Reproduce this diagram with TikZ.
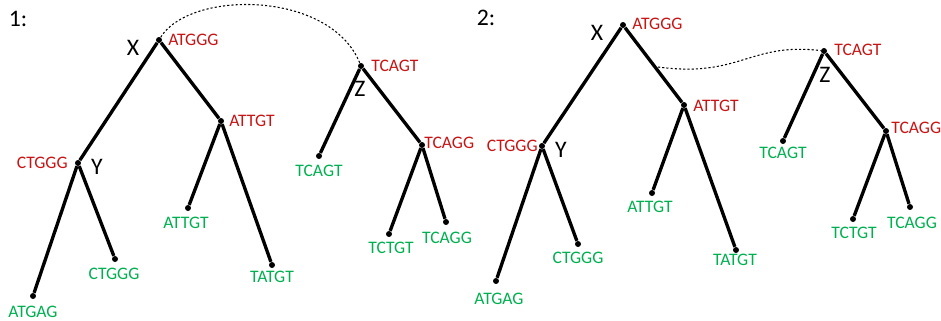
\documentclass[tikz,border=0pt]{standalone}
\usepackage{fontspec}
\setmainfont{Carlito}
\definecolor{tred}{RGB}{200,20,20}
\definecolor{tgreen}{RGB}{0,176,80}
\begin{document}
\begin{tikzpicture}[x=0.02cm,y=-0.02cm,
  dot/.style={circle,fill=black,inner sep=0pt,minimum size=0.12cm},
  br/.style={line width=1.9pt},
  rl/.style={text=tred,font=\fontsize{10}{12}\selectfont,inner sep=0pt},
  gl/.style={text=tgreen,font=\fontsize{10}{12}\selectfont,inner sep=0pt},
  bl/.style={font=\fontsize{13.5}{15}\selectfont,inner sep=0pt},
  link/.style={line width=0.6pt,dash pattern=on 1.2pt off 1.2pt}]
\useasboundingbox (0,0) rectangle (941,321);
% ---------- panel 1 ----------
\node[bl] (t1) at (18,19) {1:};
\node[dot] (ax) at (159,40) {};
\node[dot] (aa) at (221,121) {};
\node[dot] (ay) at (78,163) {};
\node[dot] (aag) at (33,296) {};
\node[dot] (acg) at (115,259) {};
\node[dot] (aat) at (188,208) {};
\node[dot] (atat) at (272,265) {};
\node[dot] (az) at (361,66) {};
\node[dot] (atl) at (319,156) {};
\node[dot] (atc) at (422,145) {};
\node[dot] (att) at (389,234) {};
\node[dot] (atg) at (446,222) {};
\draw[br] (aag) -- (ay) -- (ax) -- (aa) -- (atat);
\draw[br] (ay) -- (acg);
\draw[br] (aa) -- (aat);
\draw[br] (atl) -- (az) -- (atc) -- (att);
\draw[br] (atc) -- (atg);
\draw[link] (ax) .. controls (190,-10) and (330,-10) .. (az);
\node[bl] (lx1) at (133,48) {X};
\node[bl] (ly1) at (97,167) {Y};
\node[bl] (lz1) at (360,89) {Z};
\node[rl,anchor=west] (r1a) at (168,40) {ATGGG};
\node[rl,anchor=west] (r1b) at (229,121) {ATTGT};
\node[rl,anchor=east] (r1c) at (68,163) {CTGGG};
\node[rl,anchor=west] (r1d) at (371,66) {TCAGT};
\node[rl,anchor=west] (r1e) at (424,143) {TCAGG};
\node[gl] (g1a) at (33,312) {ATGAG};
\node[gl] (g1b) at (114,274) {CTGGG};
\node[gl] (g1c) at (186,223) {ATTGT};
\node[gl] (g1d) at (272,277) {TATGT};
\node[gl] (g1e) at (319,171) {TCAGT};
\node[gl] (g1f) at (391,248) {TCTGT};
\node[gl] (g1g) at (447,238) {TCAGG};
% ---------- panel 2 ----------
\node[bl] (t2) at (486,18) {2:};
\node[dot] (bx) at (623,25) {};
\node[dot] (ba) at (684,105) {};
\node[dot] (by) at (542,146) {};
\node[dot] (bag) at (496,281) {};
\node[dot] (bcg) at (578,244) {};
\node[dot] (bat) at (652,193) {};
\node[dot] (btat) at (736,250) {};
\node[dot] (bz) at (824,51) {};
\node[dot] (btl) at (783,141) {};
\node[dot] (btc) at (886,131) {};
\node[dot] (btt) at (853,219) {};
\node[dot] (btg) at (910,207) {};
\draw[br] (bag) -- (by) -- (bx) -- (ba) -- (btat);
\draw[br] (by) -- (bcg);
\draw[br] (ba) -- (bat);
\draw[br] (btl) -- (bz) -- (btc) -- (btt);
\draw[br] (btc) -- (btg);
\coordinate (bs) at (658,67);
\draw[link] (bs) .. controls (740,78) and (750,42) .. (bz);
\node[bl] (lx2) at (597,33) {X};
\node[bl] (ly2) at (561,150) {Y};
\node[bl] (lz2) at (825,75) {Z};
\node[rl,anchor=west] (r2a) at (632,24) {ATGGG};
\node[rl,anchor=west] (r2b) at (693,106) {ATTGT};
\node[rl,anchor=east] (r2c) at (538,146) {CTGGG};
\node[rl,anchor=west] (r2d) at (834,50) {TCAGT};
\node[rl,anchor=west] (r2e) at (891,128) {TCAGG};
\node[gl] (g2a) at (499,299) {ATGAG};
\node[gl] (g2b) at (578,258) {CTGGG};
\node[gl] (g2c) at (650,207) {ATTGT};
\node[gl] (g2d) at (735,260) {TATGT};
\node[gl] (g2e) at (783,153) {TCAGT};
\node[gl] (g2f) at (854,233) {TCTGT};
\node[gl] (g2g) at (912,223) {TCAGG};
\end{tikzpicture}
\end{document}
